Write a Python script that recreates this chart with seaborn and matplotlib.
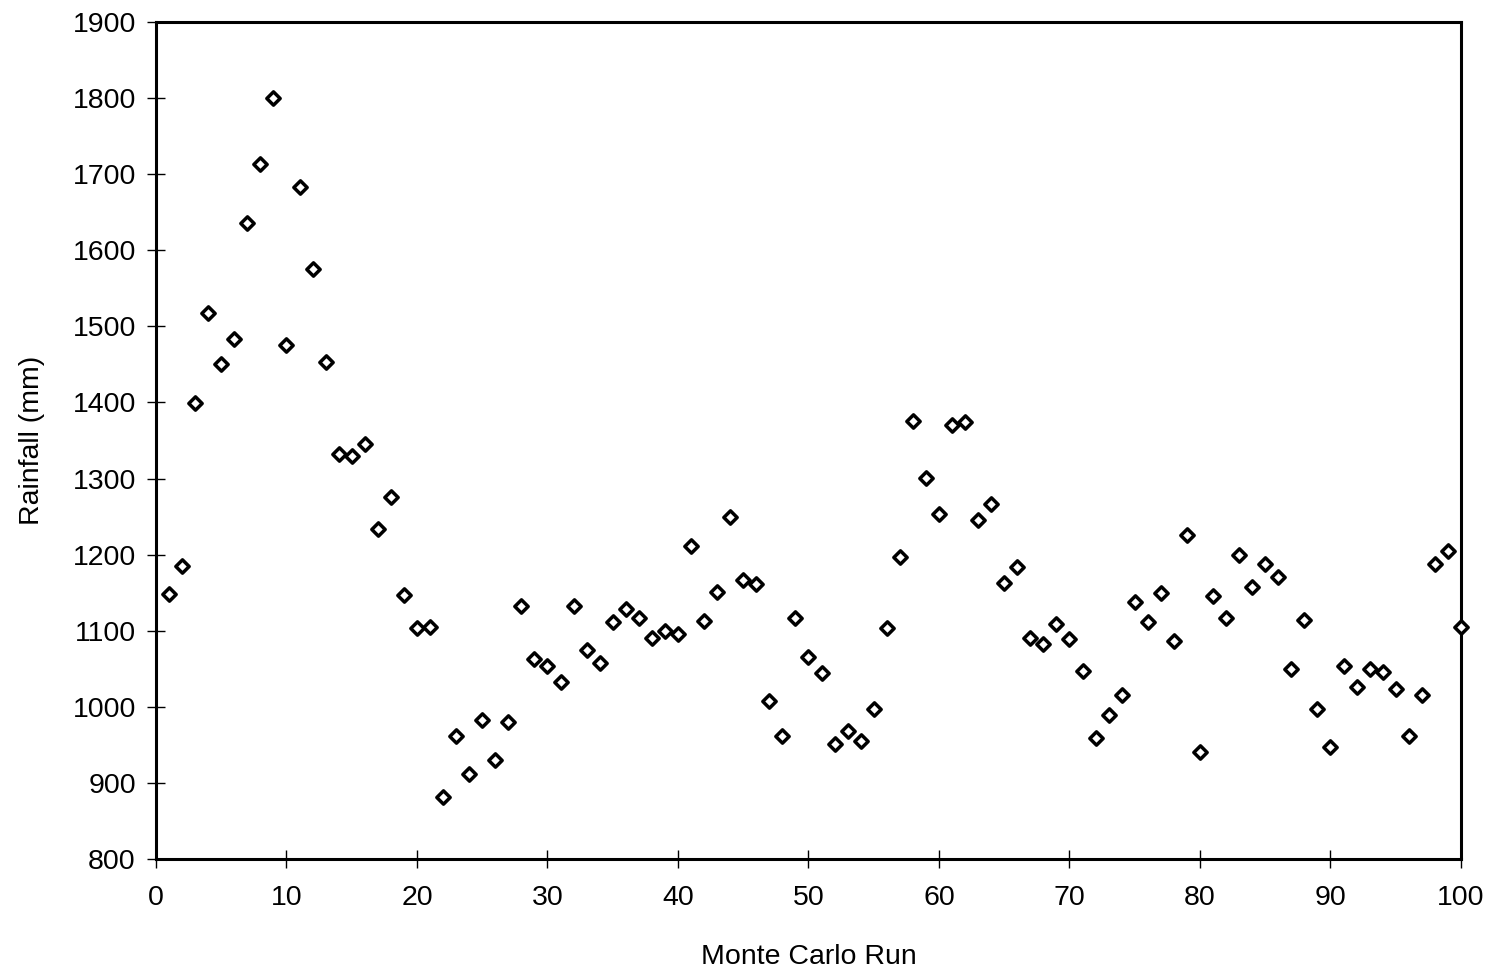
import numpy as np
import pandas as pd
import matplotlib
matplotlib.use("Agg")
import matplotlib.pyplot as plt
import seaborn as sns

# Simulated annual rainfall for each Monte Carlo run
runs = list(range(1, 101))
rainfall = [
    1148, 1185, 1399, 1518, 1451, 1484, 1636, 1713, 1800, 1475,
    1683, 1575, 1453, 1332, 1329, 1345, 1234, 1276, 1147, 1104,
    1105, 882, 961, 912, 983, 930, 980, 1133, 1063, 1054,
    1033, 1133, 1074, 1058, 1112, 1129, 1117, 1091, 1100, 1096,
    1211, 1113, 1151, 1250, 1167, 1162, 1008, 962, 1117, 1066,
    1045, 951, 968, 955, 997, 1103, 1197, 1375, 1301, 1253,
    1370, 1374, 1246, 1266, 1163, 1184, 1091, 1083, 1109, 1089,
    1047, 959, 989, 1016, 1138, 1112, 1149, 1087, 1226, 940,
    1145, 1117, 1199, 1158, 1188, 1170, 1050, 1114, 997, 947,
    1054, 1026, 1050, 1046, 1024, 961, 1016, 1188, 1205, 1105,
]
x_ticks = list(range(0, 101, 10))
y_ticks = list(range(800, 1901, 100))

df = pd.DataFrame({"Monte Carlo Run": runs, "Rainfall (mm)": rainfall})

sns.set_style("white")
plt.rcParams["font.family"] = ["Liberation Sans", "DejaVu Sans"]

fig = plt.figure(figsize=(14.94, 9.77), dpi=100)
ax = fig.add_axes([0.1044, 0.1208, 0.8735, 0.8567])

sns.scatterplot(
    data=df, x="Monte Carlo Run", y="Rainfall (mm)", ax=ax,
    marker="D", s=46, facecolor="white", edgecolor="black", linewidth=2.5,
    zorder=3, legend=False, clip_on=False,
)

ax.set_xlim(0, 100)
ax.set_ylim(800, 1900)
ax.set_xticks(x_ticks)
ax.set_yticks(y_ticks)
ax.tick_params(axis="both", which="major", direction="inout", length=13,
               width=1.0, color="black", labelsize=20.5, labelcolor="black")
ax.tick_params(axis="x", pad=12)
ax.tick_params(axis="y", pad=8)
ax.tick_params(top=False, right=False, bottom=True, left=True)

for side in ["left", "right", "top", "bottom"]:
    ax.spines[side].set_visible(True)
    ax.spines[side].set_color("black")
    ax.spines[side].set_linewidth(2.2)

ax.set_xlabel("Monte Carlo Run", fontsize=20.5, color="black")
ax.set_ylabel("Rainfall (mm)", fontsize=20.5, color="black")
ax.xaxis.set_label_coords(0.5, -0.102)
ax.yaxis.set_label_coords(-0.085, 0.5)
ax.grid(False)

fig.savefig("out.png", dpi=100, facecolor="white")
